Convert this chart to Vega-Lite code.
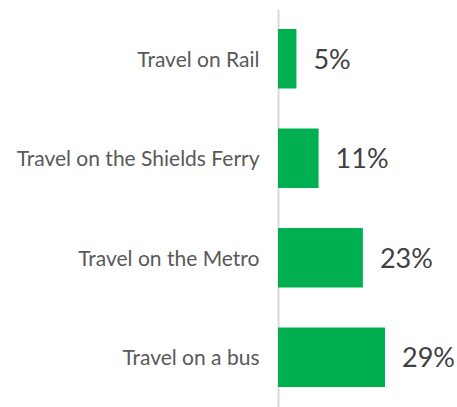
{
  "$schema": "https://vega.github.io/schema/vega-lite/v6.json",
  "width": 179,
  "height": 398,
  "autosize": "none",
  "padding": {"left": 278, "top": 9, "right": 0, "bottom": 0},
  "background": "white",
  "config": {"view": {"stroke": null}},
  "data": {
    "values": [
      {"category": "Travel on Rail", "value": 5, "label": "5%"},
      {"category": "Travel on the Shields Ferry", "value": 11, "label": "11%"},
      {"category": "Travel on the Metro", "value": 23, "label": "23%"},
      {"category": "Travel on a bus", "value": 29, "label": "29%"}
    ]
  },
  "encoding": {
    "y": {
      "field": "category",
      "type": "nominal",
      "sort": null,
      "scale": {"paddingInner": 0.4, "paddingOuter": 0.2},
      "axis": {
        "title": null,
        "ticks": false,
        "domainColor": "#d9d9d9",
        "domainWidth": 2,
        "labelFont": "Lato",
        "labelFontSize": 21,
        "labelColor": "#595959",
        "labelPadding": 19,
        "labelOffset": 2,
        "labelLimit": 300
      }
    },
    "x": {
      "field": "value",
      "type": "quantitative",
      "scale": {"domain": [0, 48.5]},
      "axis": null
    }
  },
  "layer": [
    {"mark": {"type": "bar", "color": "#00B050", "x": 1}},
    {
      "mark": {"type": "text", "align": "left", "dx": 17, "dy": 2, "font": "Lato", "fontSize": 27, "color": "#404040"},
      "encoding": {"text": {"field": "label"}}
    }
  ]
}
